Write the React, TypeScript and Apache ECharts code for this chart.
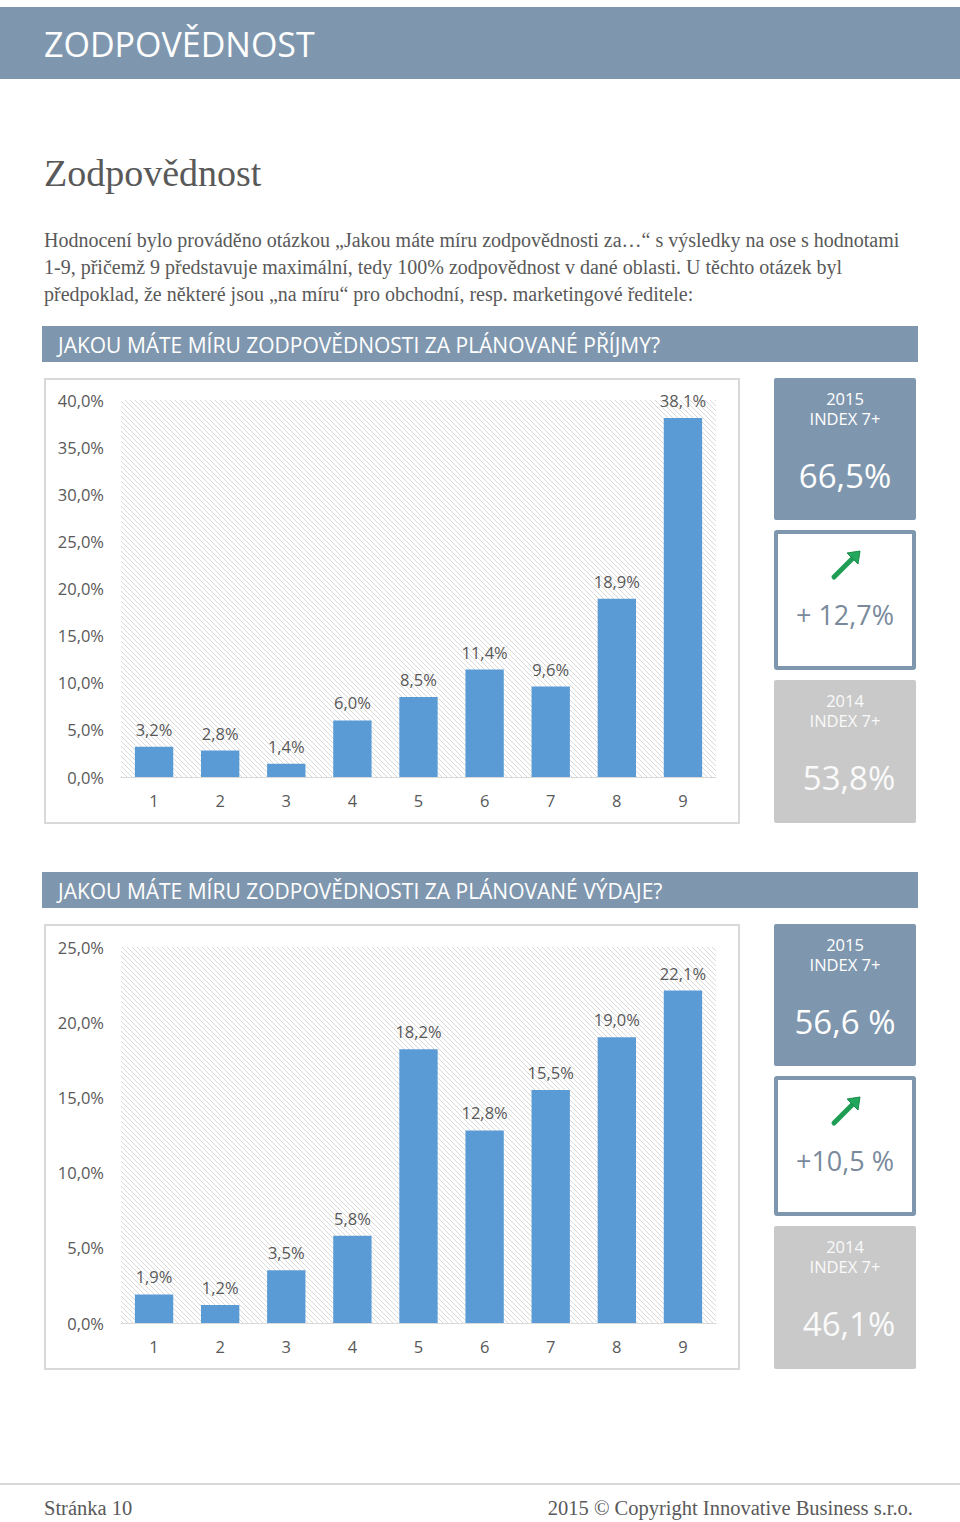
import React, { useEffect, useRef } from "react";
import * as echarts from "echarts";

const categories = ["1", "2", "3", "4", "5", "6", "7", "8", "9"];
const incomeValues = [3.2, 2.8, 1.4, 6.0, 8.5, 11.4, 9.6, 18.9, 38.1];
const expenseValues = [1.9, 1.2, 3.5, 5.8, 18.2, 12.8, 15.5, 19.0, 22.1];
const incomeAxisMax = 40;
const expenseAxisMax = 25;
const axisInterval = 5;

const incomeIndexTexts = ["2015", "INDEX 7+", "66,5%", "+ 12,7%", "2014", "INDEX 7+", "53,8%"];
const expenseIndexTexts = ["2015", "INDEX 7+", "56,6 %", "+10,5 %", "2014", "INDEX 7+", "46,1%"];

const pageTitle = "ZODPOVĚDNOST";
const heading = "Zodpovědnost";
const paragraphLines = [
  "Hodnocení bylo prováděno otázkou „Jakou máte míru zodpovědnosti za…“ s výsledky na ose s hodnotami",
  "1-9, přičemž 9 představuje maximální, tedy 100% zodpovědnost v dané oblasti. U těchto otázek byl",
  "předpoklad, že některé jsou „na míru“ pro obchodní, resp. marketingové ředitele:",
];
const sectionTitles = [
  "JAKOU MÁTE MÍRU ZODPOVĚDNOSTI ZA PLÁNOVANÉ PŘÍJMY?",
  "JAKOU MÁTE MÍRU ZODPOVĚDNOSTI ZA PLÁNOVANÉ VÝDAJE?",
];
const footerLeft = "Stránka 10";
const footerRight = "2015 © Copyright Innovative Business s.r.o.";

const SANS = '"Open Sans", "Noto Sans", sans-serif';
const SERIF = '"Liberation Serif", "DejaVu Serif", serif';
const STEEL = "#7f97ae";
const GREY_TEXT = "#595959";
const BAR = "#5b9bd5";

const hatchSvg =
  "data:image/svg+xml;utf8," +
  encodeURIComponent(
    "<svg xmlns='http://www.w3.org/2000/svg' width='5' height='5'><rect width='5' height='5' fill='#ffffff'/><path d='M-1,-1 L6,6 M-1,4 L1,6 M4,-1 L6,1' stroke='#dadada' stroke-width='1'/></svg>"
  );

const fmtPct = (v: number) => v.toFixed(1).replace(".", ",") + "%";

function panelGraphics(top: number, texts: string[]) {
  const els: any[] = [];
  const cx = 845;
  // 2015 box
  els.push({ type: "rect", shape: { x: 774, y: top, width: 142, height: 142, r: 2 }, style: { fill: STEEL } });
  els.push({ type: "text", x: cx, y: top + 20, style: { text: texts[0], fill: "#fff", font: `16.5px ${SANS}`, align: "center", verticalAlign: "middle" } });
  els.push({ type: "text", x: cx, y: top + 40, style: { text: texts[1], fill: "#fff", font: `16.5px ${SANS}`, align: "center", verticalAlign: "middle" } });
  els.push({ type: "text", x: cx, y: top + 97, style: { text: texts[2], fill: "#fff", font: `33px ${SANS}`, align: "center", verticalAlign: "middle" } });
  // change box
  const b = top + 152;
  els.push({ type: "rect", shape: { x: 776, y: b + 2, width: 138, height: 136, r: 1 }, style: { fill: "#fff", stroke: STEEL, lineWidth: 4 } });
  const tipX = 860, tipY = b + 21;
  els.push({ type: "line", shape: { x1: 834, y1: b + 47, x2: 853, y2: b + 28 }, style: { stroke: "#1e9e55", lineWidth: 5, lineCap: "round" } });
  els.push({ type: "polygon", shape: { points: [[tipX, tipY], [tipX - 13, tipY + 2], [tipX - 2, tipY + 13]] }, style: { fill: "#22a85c", stroke: "#1b8c4b", lineWidth: 1 } });
  els.push({ type: "text", x: cx, y: b + 84, style: { text: texts[3], fill: "#7a8a9c", font: `27px ${SANS}`, align: "center", verticalAlign: "middle" } });
  // 2014 box
  const c = top + 302;
  els.push({ type: "rect", shape: { x: 774, y: c, width: 142, height: 143, r: 2 }, style: { fill: "#c9c9c9" } });
  els.push({ type: "text", x: cx, y: c + 20, style: { text: texts[4], fill: "#fafafa", font: `16.5px ${SANS}`, align: "center", verticalAlign: "middle" } });
  els.push({ type: "text", x: cx, y: c + 40, style: { text: texts[5], fill: "#fafafa", font: `16.5px ${SANS}`, align: "center", verticalAlign: "middle" } });
  els.push({ type: "text", x: 849, y: c + 97, style: { text: texts[6], fill: "#fafafa", font: `33px ${SANS}`, align: "center", verticalAlign: "middle" } });
  return els;
}

export default function App() {
  const ref = useRef<HTMLDivElement>(null);
  useEffect(() => {
    if (!ref.current) return;
    const chart = echarts.init(ref.current, null, { renderer: "svg" });
    const hatch: any = { image: hatchSvg, repeat: "repeat", imageWidth: 5, imageHeight: 5 };

    const graphics: any[] = [
      { type: "rect", shape: { x: 0, y: 7, width: 960, height: 72 }, style: { fill: STEEL } },
      { type: "text", x: 44, y: 44, style: { text: pageTitle, fill: "#fff", font: `34px ${SANS}`, verticalAlign: "middle" } },
      { type: "text", x: 44, y: 173, style: { text: heading, fill: GREY_TEXT, font: `38px ${SERIF}`, verticalAlign: "middle" } },
      ...paragraphLines.map((t, i) => ({
        type: "text", x: 44, y: 240 + i * 27,
        style: { text: t, fill: GREY_TEXT, font: `20px ${SERIF}`, verticalAlign: "middle" },
      })),
      ...sectionTitles.flatMap((t, i) => {
        const y = 326 + i * 546;
        return [
          { type: "rect", shape: { x: 42, y, width: 876, height: 36 }, style: { fill: STEEL } },
          { type: "text", x: 58, y: y + 19, style: { text: t, fill: "#fff", font: `21px ${SANS}`, verticalAlign: "middle" } },
        ];
      }),
      { type: "rect", shape: { x: 45, y: 379, width: 694, height: 444 }, style: { fill: "none", stroke: "#d9d9d9", lineWidth: 2 } },
      { type: "rect", shape: { x: 45, y: 925, width: 694, height: 444 }, style: { fill: "none", stroke: "#d9d9d9", lineWidth: 2 } },
      ...panelGraphics(378, incomeIndexTexts),
      ...panelGraphics(924, expenseIndexTexts),
      { type: "line", shape: { x1: 0, y1: 1484, x2: 960, y2: 1484 }, style: { stroke: "#d9d9d9", lineWidth: 2 } },
      { type: "text", x: 44, y: 1508, style: { text: footerLeft, fill: GREY_TEXT, font: `20.5px ${SERIF}`, verticalAlign: "middle" } },
      { type: "text", x: 913, y: 1508, style: { text: footerRight, fill: GREY_TEXT, font: `20.5px ${SERIF}`, align: "right", verticalAlign: "middle" } },
    ];

    const xAxisCommon = {
      type: "category",
      data: categories,
      axisLine: { lineStyle: { color: "#d9d9d9", width: 1 } },
      axisTick: { show: false },
      axisLabel: { color: GREY_TEXT, fontSize: 16.5, fontFamily: SANS, margin: 15 },
    };
    const yAxisCommon = {
      type: "value",
      min: 0,
      interval: axisInterval,
      axisLine: { show: false },
      axisTick: { show: false },
      splitLine: { show: false },
      axisLabel: { color: GREY_TEXT, fontSize: 16.5, fontFamily: SANS, margin: 17, formatter: (v: number) => fmtPct(v) },
    };
    const seriesCommon = {
      type: "bar",
      barCategoryGap: "42%",
      itemStyle: { color: BAR },
      label: {
        show: true, position: "top", distance: 9, color: GREY_TEXT, fontSize: 16.5, fontFamily: SANS,
        formatter: (p: any) => fmtPct(p.value),
      },
    };

    chart.setOption({
      animation: false,
      grid: [
        { left: 121, width: 595, top: 400, height: 377, show: true, borderWidth: 0, backgroundColor: hatch },
        { left: 121, width: 595, top: 947, height: 376, show: true, borderWidth: 0, backgroundColor: hatch },
      ],
      xAxis: [
        { ...xAxisCommon, gridIndex: 0 },
        { ...xAxisCommon, gridIndex: 1 },
      ],
      yAxis: [
        { ...yAxisCommon, gridIndex: 0, max: incomeAxisMax },
        { ...yAxisCommon, gridIndex: 1, max: expenseAxisMax },
      ],
      series: [
        { ...seriesCommon, name: "Příjmy", xAxisIndex: 0, yAxisIndex: 0, data: incomeValues },
        { ...seriesCommon, name: "Výdaje", xAxisIndex: 1, yAxisIndex: 1, data: expenseValues },
      ],
      graphic: graphics,
    });
    return () => chart.dispose();
  }, []);
  return (
    <div
      ref={ref}
      style={{ position: "absolute", left: 0, top: 0, width: 960, height: 1522, background: "#fff" }}
    />
  );
}
